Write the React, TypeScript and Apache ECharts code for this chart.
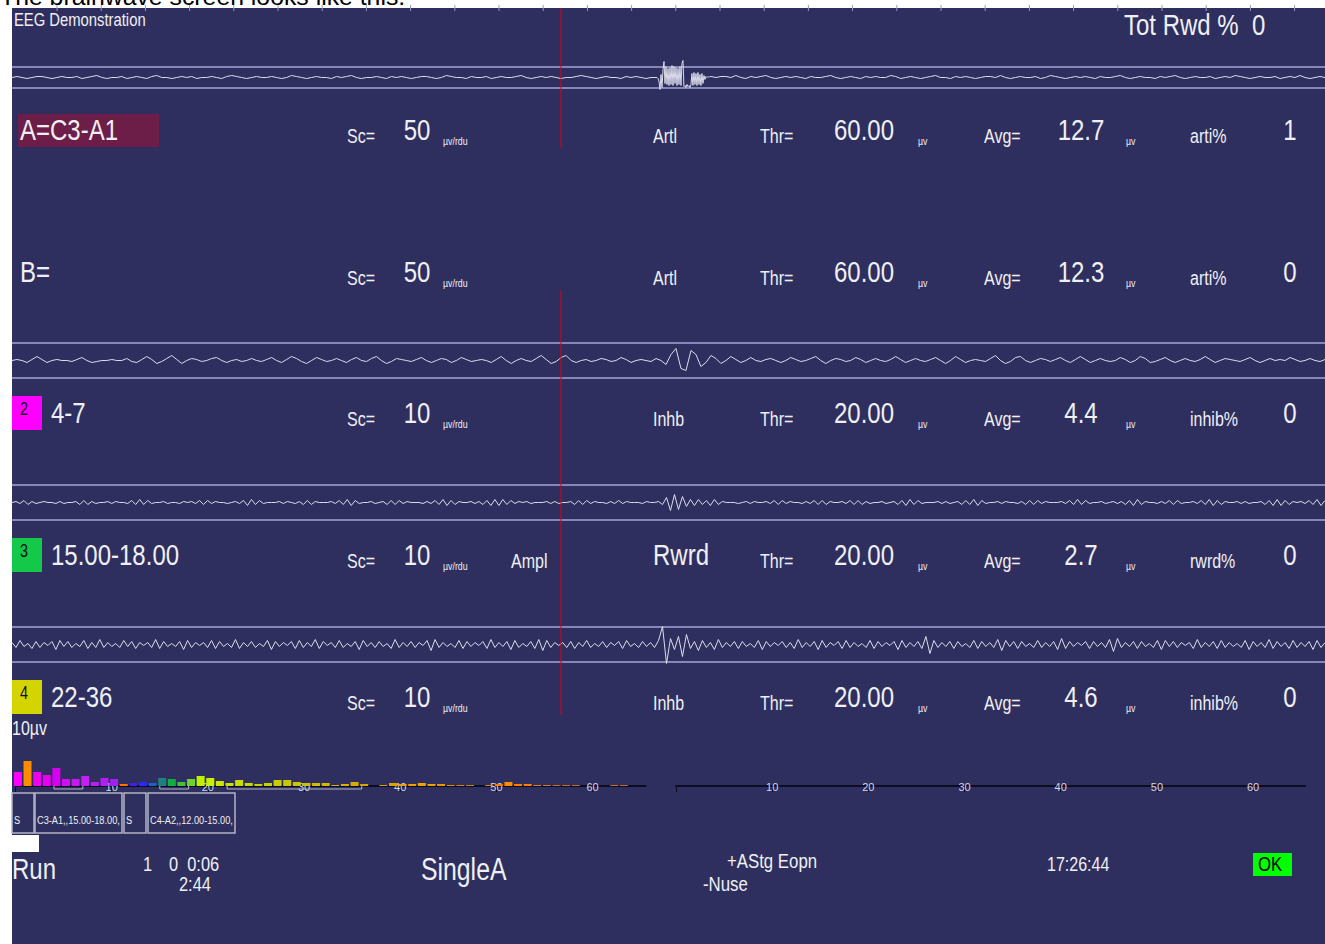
import React, { useEffect, useRef } from "react";
import * as echarts from "echarts";

// ---------- DATA ----------
// raw channel A (C3-A1): samples every 5 time units before the artifact burst
const rawAPre = [
  0,1,0,-1,0,1,1,0,-1,0,1,0,0,1,-1,0,1,2,0,-1,
  0,0,1,-1,0,1,0,-1,1,2,0,0,-1,0,1,0,1,-1,0,0,
  1,0,-1,1,2,1,0,-1,0,1,0,0,1,0,-1,0,2,1,0,-1,
  0,1,0,0,-1,1,0,1,2,0,-1,0,0,1,0,-1,1,0,1,0,
  -1,0,1,1,0,-1,0,2,1,0,0,-1,1,0,0,1,-1,0,1,0,
  0,1,2,0,-1,0,1,0,1,0,-1,0,0,1,2,1,0,-1,0,1,
  0,0,-1,1,0,1,0,-1,0,0
];
// artifact burst, sampled every 1 time unit (t = 646 … 699)
const rawABurst = [
  0,-1,-4,-12,3,-10,8,16,-6,11,-7,9,-8,10,-7,12,-8,11,-6,10,
  -8,9,-7,11,-8,14,17,-9,-8,-10,-7,-9,-8,-10,-7,4,-8,5,-7,4,
  -8,5,-7,3,-8,4,-6,2,-2,1,0,1,0,1
];
// after the burst, every 5 time units (t = 700 … 1315)
const rawAPost = [
  1,0,1,1,0,2,0,-1,1,0,1,2,0,-1,0,1,0,1,0,-1,
  1,0,0,1,2,0,-1,0,1,0,-1,1,0,1,0,0,2,1,-1,0,
  1,0,-1,0,1,2,0,0,-1,1,0,1,0,-1,0,1,1,0,2,0,
  -1,0,1,0,0,1,-1,0,2,1,0,-1,0,1,0,1,0,-1,1,0,
  0,1,2,0,-1,0,1,0,0,-1,1,0,1,2,0,-1,0,1,0,0,
  1,-1,0,1,0,2,1,0,-1,0,1,0,0,1,-1,0,1,0,2,0,
  -1,0,1,0
];
// 4-7 Hz filtered trace
const theta47 = [
  0,1,0,-2,1,4,1,-2,0,1,0,0,-1,1,3,0,-2,-1,0,0,
  1,0,0,2,-1,-2,1,4,1,-3,-1,2,5,1,-3,0,2,1,-1,0,
  2,3,0,-2,0,1,-1,0,2,0,-1,1,3,0,-2,1,4,2,-1,-3,
  0,3,1,-1,0,2,0,-2,1,3,0,-1,2,4,0,-3,-1,2,1,0,
  -1,1,3,0,-2,0,2,1,-2,0,3,1,-1,0,1,0,-2,1,4,0,
  -3,0,2,0,-1,2,5,1,-3,-1,3,5,0,-2,0,1,-1,0,2,1,
  -1,0,3,1,-2,0,1,0,-1,2,0,-4,6,12,-8,-10,10,6,-6,-2,
  5,2,-3,0,4,1,-2,0,3,0,-1,1,2,0,-2,0,3,1,-1,0,
  2,4,0,-3,0,2,1,-1,0,3,1,-2,0,2,0,-1,1,4,1,-2,
  0,2,0,-1,1,3,0,-3,0,4,1,-2,0,1,0,-1,2,5,0,-3,
  -1,3,4,0,-2,0,2,1,-1,1,3,0,-2,1,4,1,-2,0,2,0,
  -1,0,3,1,-2,0,4,2,-2,-1,1,3,0,-2,0,2,0,-1,1,4,
  1,-2,0,2,1,0,-1,1,3,0,-2,0,2,0,1,0,3,1,-1,0,
  2,0,-1,1
];
// 15-18 Hz filtered trace
const beta1518 = [
  0,1,-1,2,-2,1,-1,0,1,0,0,-1,1,-1,0,0,1,-2,2,-2,1,-1,0,0,1,-1,1,0,0,-1,
  2,-2,3,-2,2,-1,0,0,1,-1,0,0,-1,1,0,1,-1,2,-2,2,-1,1,0,0,-1,0,1,-1,2,-3,
  3,-2,2,-1,0,0,0,1,-1,1,0,-1,1,-2,2,-2,1,0,0,0,1,-1,2,-2,3,-3,2,-1,0,0,
  1,-1,0,1,-2,2,-2,2,-1,1,0,0,0,-1,1,-1,2,-2,3,-3,2,-2,1,0,0,1,-1,1,-2,2,
  -3,3,-3,3,-2,2,-1,1,0,1,-1,0,0,0,1,-1,1,-1,0,0,1,-2,2,-2,2,-1,1,0,0,-1,
  1,-1,2,-1,1,0,0,0,-1,1,0,0,1,-2,5,-8,8,-7,6,-4,3,-3,3,-2,2,-3,3,-2,1,0,
  0,0,-1,0,1,-1,1,0,0,1,-1,2,-2,2,-1,1,0,0,-1,1,-1,2,-2,2,-2,1,0,0,1,-1,
  2,-2,2,-2,1,-1,0,0,1,-1,0,1,-2,2,-3,3,-2,2,-1,0,0,0,1,-1,1,-1,0,1,-2,2,
  -2,3,-3,2,-1,0,0,1,-1,1,0,0,-1,1,-2,2,-2,2,-1,1,0,0,0,1,-1,2,-2,3,-2,2,
  -1,0,0,1,-1,0,1,-1,1,-2,2,-3,3,-2,1,0,0,-1,1,-1,2,-2,2,-1,0,0,1,-1,2,-2,
  3,-3,2,-2,1,0,0,1,-1,1,-1,0,0,1,-2,2,-3,3,-3,2,-2,1,0,1,-1,2,-2,3,-3,2
];
// 22-36 Hz filtered trace
const beta2236 = [
  2,-3,4,-2,1,-4,3,-3,2,-1,3,-5,4,-2,3,-3,1,-2,4,-4,2,-3,5,-3,2,-2,1,-3,4,-2,
  3,-4,2,-1,2,-3,5,-4,3,-2,1,-2,3,-5,4,-3,2,-1,2,-3,4,-4,3,-2,1,-3,5,-4,2,-2,
  3,-3,1,-2,4,-5,3,-2,2,-1,3,-4,4,-3,2,-2,5,-4,3,-1,2,-3,4,-3,1,-2,3,-5,4,-2,
  2,-3,3,-2,1,-4,5,-3,2,-2,3,-3,2,-1,4,-6,5,-3,2,-2,1,-3,4,-4,3,-2,2,-1,3,-4,
  5,-3,2,-2,3,-5,4,-3,1,-2,3,-4,5,-6,4,-3,2,-1,2,-3,3,-4,2,-2,4,-3,1,-2,3,-3,
  2,-1,3,-4,4,-2,1,-3,3,-2,2,-3,4,18,-19,6,-5,8,-12,10,-4,3,-6,4,-3,2,-5,5,-3,2,
  -2,3,-4,3,-2,1,-3,4,-5,3,-2,2,-1,3,-3,2,-4,5,-3,2,-2,3,-5,4,-3,2,-1,3,-4,4,
  -3,2,-2,1,-3,4,-4,3,-2,2,-1,3,-5,4,-3,2,-2,3,-4,8,-9,4,-3,2,-2,3,-4,3,-2,1,
  -3,4,-4,3,-2,2,-3,5,-6,4,-2,3,-4,3,-2,1,-3,4,-3,2,-2,3,-5,6,-4,3,-2,2,-1,3,
  -4,3,-2,2,-3,5,-7,6,-3,2,-2,3,-4,3,-2,1,-3,4,-5,4,-2,3,-3,2,-1,2,-4,5,-3,2,
  -2,3,-4,4,-3,2,-2,1,-3,4,-5,3,-2,2,-3,5,-4,3,-2,2,-4,4,-3,2,-2,3,-5,4,-3,2
];

// spectrum histogram: one bar per 1 Hz bin, starting at 0 Hz
const spectrumValues = [
  14,25,14,11,18,7,7,10,4,8,7,2,3,4,3,8,7,4,7,10,
  8,5,3,6,3,2,3,6,6,4,3,3,3,1,2,4,2,0,1,3,
  2,2,3,2,2,1,1,1,0,1,2,4,2,2,1,1,1,1,1,0,
  0,0,1,1
];
const spectrumColors = [
  "#ff00ff","#ff8c00","#f000f0","#e800f0","#d800f0","#cc10f0","#c818f0","#c020f0","#b820f0","#b020f0",
  "#a020f0","#ff7000","#4020e0","#2828ff","#2060c0","#208080","#10b040","#40c040","#70d030","#c0f000",
  "#c8f000","#c8e800","#c8e000","#c8dc00","#c8d800","#c8d400","#c8d000","#c8cc00","#c8c800","#ccc400",
  "#d0c000","#d0bc00","#d4b800","#d4b400","#d8b000","#d8ac00","#dca800","#dca400","#e0a000","#e0a000",
  "#f0a000","#f0a000","#f0a000","#f0a000","#e89800","#e09000","#d88810","#d08010","#d08010","#e08010",
  "#f08000","#ff8c00","#ff8000","#ff8000","#e08020","#d87820","#d07020","#c87020","#c07020","#c07020",
  "#c07020","#c07020","#c07020","#c07020"
];
const bandBrackets = [[4, 7], [15, 18], [22, 36]];
const freqTicks = [10, 20, 30, 40, 50, 60];

// channel rows
const chanLabels = ["A=C3-A1", "B=", "4-7", "15.00-18.00", "22-36"];
const chanNumbers = ["", "", "2", "3", "4"];
const chanColors = ["", "", "#ff00ff", "#14c84a", "#d4d400"];
const chanScales = ["50", "50", "10", "10", "10"];
const chanModes = ["Artl", "Artl", "Inhb", "Rwrd", "Inhb"];
const chanThresholds = ["60.00", "60.00", "20.00", "20.00", "20.00"];
const chanAverages = ["12.7", "12.3", "4.4", "2.7", "4.6"];
const chanPctLabels = ["arti%", "arti%", "inhib%", "rwrd%", "inhib%"];
const chanPctValues = ["1", "0", "0", "0", "0"];
const statusBoxes = ["S", "C3-A1,,15.00-18.00,", "S", "C4-A2,,12.00-15.00,"];

// ---------- STYLE / LAYOUT ----------
const FONT = "'Liberation Sans', Arial, sans-serif";
const NARROW = "'Liberation Sans Narrow', 'Arial Narrow', 'Liberation Sans', sans-serif";
const NAVY = "#2e2f5e";
const TXT = "#f0f0f4";
const BAND = "#a4a4d8";
const WAVE = "#dcdcec";

function txt(text: string, x: number, y: number, size: number, o: any = {}) {
  return {
    type: "text",
    x,
    y,
    scaleX: o.sx ?? 0.8,
    z: 100,
    silent: true,
    style: {
      text,
      fontSize: size,
      fontFamily: FONT,
      fill: o.color ?? TXT,
      align: o.align ?? "left",
      verticalAlign: "middle",
    },
  };
}

export default function App() {
  const ref = useRef<HTMLDivElement>(null);

  useEffect(() => {
    if (!ref.current) return;
    const chart = echarts.init(ref.current, undefined, { renderer: "svg" });

    // raw trace as [time, value] pairs
    const rawAData: number[][] = [];
    rawAPre.forEach((v, i) => rawAData.push([i * 5, v]));
    rawABurst.forEach((v, k) => rawAData.push([646 + k, v]));
    rawAPost.forEach((v, i) => rawAData.push([700 + i * 5, v]));

    const traces = [
      { data: theta47, top: 330.5, h: 60, range: 30, band: 17.5 },
      { data: beta1518, top: 472.5, h: 60, range: 30, band: 17.5 },
      { data: beta2236, top: 614.5, h: 60, range: 30, band: 17.5 },
    ];

    const grids: any[] = [
      { left: 12, top: 57.5, width: 1313, height: 40, containLabel: false, outerBoundsMode: "none" },
    ];
    traces.forEach((t) => grids.push({ left: 12, top: t.top, width: 1313, height: t.h, containLabel: false, outerBoundsMode: "none" }));
    grids.push({ left: 15.5, top: 746, width: 630, height: 50, containLabel: false, outerBoundsMode: "none" });
    grids.push({ left: 676, top: 746, width: 629, height: 50, containLabel: false, outerBoundsMode: "none" });

    const xAxes: any[] = [{ type: "value", gridIndex: 0, show: false, min: 0, max: 1315 }];
    const yAxes: any[] = [{ type: "value", gridIndex: 0, show: false, min: -20, max: 20 }];
    traces.forEach((t, i) => {
      xAxes.push({ type: "category", gridIndex: i + 1, show: false, boundaryGap: false, data: t.data.map((_, k) => String(k)) });
      yAxes.push({ type: "value", gridIndex: i + 1, show: false, min: -t.range, max: t.range });
    });
    const histAxis = (gi: number, max: number) => ({
      type: "value", gridIndex: gi, min: 0, max,
      axisLine: { show: true, onZero: true, lineStyle: { color: "#0c0c22", width: 2 } },
      axisTick: { show: true, customValues: [0, ...freqTicks], length: 6, inside: false, lineStyle: { color: "#0c0c22", width: 1 } },
      axisLabel: { show: true, customValues: freqTicks, color: "#d4d4e4", fontSize: 11, fontFamily: NARROW, margin: -9, verticalAlign: "middle" },
      splitLine: { show: false },
    });
    xAxes.push(histAxis(4, 65.5));
    xAxes.push(histAxis(5, 65.4));
    yAxes.push({ type: "value", gridIndex: 4, show: false, min: -10, max: 40 });
    yAxes.push({ type: "value", gridIndex: 5, show: false, min: -10, max: 40 });

    const bandLines = (band: number) => ({
      silent: true, symbol: ["none", "none"], label: { show: false },
      lineStyle: { color: BAND, width: 1.5, type: "solid" },
      emphasis: { disabled: true },
      data: [{ yAxis: band }, { yAxis: -band }],
    });

    const series: any[] = [
      {
        type: "line", xAxisIndex: 0, yAxisIndex: 0, data: rawAData, symbol: "none", showSymbol: false,
        lineStyle: { color: WAVE, width: 1 }, silent: true, z: 5, markLine: bandLines(10.5),
      },
    ];
    traces.forEach((t, i) => {
      series.push({
        type: "line", xAxisIndex: i + 1, yAxisIndex: i + 1, data: t.data, symbol: "none", showSymbol: false,
        lineStyle: { color: WAVE, width: 1 }, silent: true, z: 5, markLine: bandLines(t.band),
      });
    });
    series.push({
      type: "bar", xAxisIndex: 4, yAxisIndex: 4, barWidth: 8, silent: true, z: 6,
      data: spectrumValues.map((v, k) => ({ value: [k + 0.25, v], itemStyle: { color: spectrumColors[k] } })),
    });
    bandBrackets.forEach(([lo, hi]) => {
      series.push({
        type: "line", xAxisIndex: 4, yAxisIndex: 4, symbol: "none", silent: true, z: 7,
        lineStyle: { color: "#b4b4c8", width: 1 },
        data: [[lo, 0], [lo, -3], [hi, -3], [hi, 0]],
      });
    });
    series.push({ type: "bar", xAxisIndex: 5, yAxisIndex: 5, data: [] });

    // ---------- graphic decorations & texts ----------
    const g: any[] = [];
    g.push({ type: "text", x: 0, y: -3.7, z: -20, silent: true,
      style: { text: "The brainwave screen looks like this.", fontSize: 24.8, fontFamily: FONT, fill: "#000", verticalAlign: "middle" } });
    g.push({ type: "rect", z: -10, silent: true, shape: { x: 12, y: 8, width: 1313, height: 936 }, style: { fill: NAVY } });
    for (let k = 0; k <= 28; k++) {
      const x = 57 + 44.2 * k;
      g.push({ type: "line", z: 90, silent: true, shape: { x1: x, y1: 5, x2: x, y2: 11 }, style: { stroke: "#9a9ab4", lineWidth: 1 } });
    }
    // red cursor line
    g.push({ type: "line", z: 90, silent: true, shape: { x1: 561, y1: 8, x2: 561, y2: 148 }, style: { stroke: "#e00010", lineWidth: 1 } });
    g.push({ type: "line", z: 90, silent: true, shape: { x1: 561, y1: 290, x2: 561, y2: 715 }, style: { stroke: "#e00010", lineWidth: 1 } });

    g.push(txt("EEG Demonstration", 14, 20, 19, { sx: 0.78 }));
    g.push(txt("Tot Rwd %  0", 1124, 25, 30));

    const rowY = [130, 272, 413, 555, 697];
    rowY.forEach((y, r) => {
      if (r === 0) {
        g.push({ type: "rect", z: 60, silent: true, shape: { x: 18, y: 114, width: 141, height: 33 }, style: { fill: "#6c1e48" } });
      }
      if (chanColors[r]) {
        g.push({ type: "rect", z: 60, silent: true, shape: { x: 12, y: y - 17, width: 30, height: 34 }, style: { fill: chanColors[r] } });
        g.push(txt(chanNumbers[r], 20, y - 5, 18, { color: "#101010" }));
      }
      g.push(txt(chanLabels[r], r < 2 ? 20 : 51, y, 30));
      g.push(txt("Sc=", 347, y + 6, 20));
      g.push(txt(chanScales[r], 417, y, 30, { align: "center" }));
      g.push(txt("µv/rdu", 443, y + 11, 11));
      if (chanModes[r] === "Rwrd") {
        g.push(txt("Ampl", 511, y + 6, 20));
        g.push(txt(chanModes[r], 653, y, 30));
      } else {
        g.push(txt(chanModes[r], 653, y + 6, 20));
      }
      g.push(txt("Thr=", 760, y + 6, 20));
      g.push(txt(chanThresholds[r], 864, y, 30, { align: "center" }));
      g.push(txt("µv", 918, y + 11, 11));
      g.push(txt("Avg=", 984, y + 6, 20));
      g.push(txt(chanAverages[r], 1081, y, 30, { align: "center" }));
      g.push(txt("µv", 1126, y + 11, 11));
      g.push(txt(chanPctLabels[r], 1190, y + 6, 20));
      g.push(txt(chanPctValues[r], 1290, y, 30, { align: "center" }));
    });
    g.push(txt("10µv", 12, 728, 20));

    // status boxes
    const boxes = [[12, 22], [35, 87], [124, 22], [148, 87]];
    boxes.forEach(([x, w], i) => {
      g.push({ type: "rect", z: 60, silent: true, shape: { x, y: 793, width: w, height: 40 }, style: { fill: "none", stroke: "#b4b4c8", lineWidth: 1.5 } });
      g.push(txt(statusBoxes[i], x + 2, 820, 11.5));
    });
    g.push({ type: "rect", z: 60, silent: true, shape: { x: 12, y: 835, width: 27, height: 17 }, style: { fill: "#ffffff" } });

    g.push(txt("Run", 12, 869, 30));
    g.push(txt("1", 143, 864, 20.5));
    g.push(txt("0  0:06", 169, 864, 20.5));
    g.push(txt("2:44", 179, 884, 20.5));
    g.push(txt("SingleA", 421, 870, 31));
    g.push(txt("+AStg Eopn", 727, 861, 21));
    g.push(txt("-Nuse", 703, 884, 21));
    g.push(txt("17:26:44", 1047, 864, 20));
    g.push({ type: "rect", z: 60, silent: true, shape: { x: 1253, y: 853, width: 39, height: 23 }, style: { fill: "#00ff00" } });
    g.push(txt("OK", 1258, 864, 21, { color: "#000000" }));

    chart.setOption({
      animation: false,
      backgroundColor: "#ffffff",
      grid: grids,
      xAxis: xAxes,
      yAxis: yAxes,
      series,
      graphic: { elements: g },
    });

    return () => chart.dispose();
  }, []);

  return (
    <div
      ref={ref}
      style={{ position: "fixed", left: 0, top: 0, width: 1325, height: 944 }}
    />
  );
}
